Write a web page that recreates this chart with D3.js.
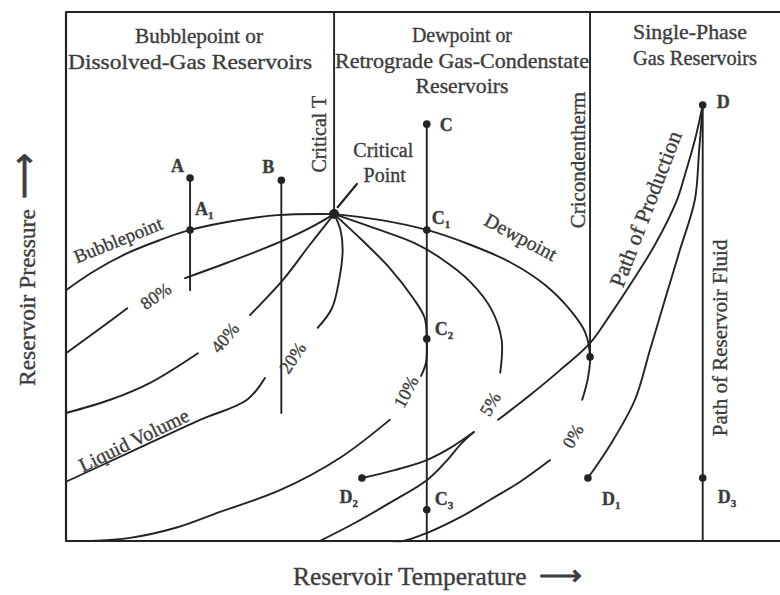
<!DOCTYPE html>
<html>
<head>
<meta charset="utf-8">
<script src="https://cdn.jsdelivr.net/npm/d3@7"></script>
<style>
  html, body { margin: 0; padding: 0; background: #ffffff; }
  svg { display: block; }
  text { font-family: "Liberation Serif", "Times New Roman", serif; fill: #3c3c3c; stroke: #3c3c3c; stroke-width: 0.35px; }
</style>
</head>
<body>
<svg id="chart" width="780" height="595"></svg>
<script>
// Phase diagram of a reservoir fluid: relative temperature (T) and pressure (P), 0–100.

// Critical point and cricondentherm
const criticalPoint = [37.6, 61.8];
const cricondenthermT = 73.5;

// Phase envelope
const bubblepointLine = [[0, 47.4], [3.8, 50.9], [8.6, 54.4], [13.2, 56.9], [17.4, 58.8], [22.6, 60.3], [29.6, 61.6], [37.6, 61.8]];
const dewpointUpper = [[37.6, 61.8], [44.0, 60.7], [50.6, 58.8], [56.7, 56.0], [62.3, 52.7], [67.2, 48.4], [70.7, 43.7], [72.8, 39.5], [73.5, 34.8], [73.2, 30.8], [72.4, 26.7]];
const dewpointLower = [[67.9, 15.3], [63.7, 11.2], [59.5, 7.8], [55.3, 4.5], [50.6, 1.5], [47.3, 0], [45.6, 0]];

// Liquid-volume quality lines (each broken where its label sits)
const quality80Upper = [[37.6, 61.8], [34.2, 59.2], [29.6, 56.3], [22.6, 52.6], [16.7, 49.7]];
const quality80Lower = [[8.6, 44.0], [4.1, 39.5], [0, 35.5]];
const quality40Upper = [[37.6, 61.8], [34.2, 56.0], [30.4, 49.3], [25.8, 42.7]];
const quality40Lower = [[18.5, 35.5], [11.8, 29.9], [6.2, 26.7], [0, 24.2]];
const quality20Upper = [[37.6, 61.8], [38.5, 58.8], [38.8, 55.0], [38.3, 49.3], [37.3, 44.0], [35.3, 40.3]];
const quality20Lower = [[27.9, 30.8], [25.4, 26.7], [18.8, 22.9], [9.0, 16.8], [0, 11.2]];
const quality10Upper = [[37.6, 61.8], [41.5, 56.9], [45.4, 51.6], [48.7, 45.9], [50.3, 42.2], [50.6, 38.2], [50.5, 33.8], [49.8, 31.2]];
const quality10Lower = [[45.4, 22.9], [38.4, 15.7], [30.0, 9.6], [21.6, 5.5], [15.4, 2.5], [9.0, 0.6], [3.4, 0]];
const quality5Upper = [[37.6, 61.8], [44.0, 58.8], [48.9, 56.3], [52.5, 53.5], [56.7, 49.0], [59.7, 43.7], [61.1, 38.0], [60.9, 31.8]];
const quality5Lower = [[57.2, 20.6], [55.5, 18.5], [53.2, 14.9], [50.6, 11.5], [45.4, 7.2], [40.5, 3.4], [35.6, 0]];

// Production paths from point D
const productionPathUpper = [[89.3, 82.4], [88.2, 75.8], [86.8, 69.2], [85.7, 64.5], [82.6, 56.0], [79.1, 48.4], [76.3, 42.7], [73.5, 37.4], [69.3, 32.3], [65.1, 27.6], [60.6, 22.9]];
const productionPathLower = [[57.2, 20.6], [53.9, 17.6], [50.6, 15.3], [46.1, 13.4], [41.5, 11.9]];
const pathToD1 = [[89.3, 82.4], [88.8, 73.9], [88.2, 64.5], [86.1, 55.0], [84.0, 45.6], [81.9, 36.1], [79.8, 26.7], [76.3, 18.1], [73.2, 11.9]];

// Isothermal depletion paths: [T, P start, P end]
const isotherms = [[17.4, 68.6, 47.4], [30.2, 68.2, 24.2], [50.6, 78.8, 0], [89.3, 82.4, 0]];

// Named state points
const pointNames = ["A", "A1", "B", "C", "C1", "C2", "C3", "D", "D1", "D2", "D3"];
const pointT = [17.4, 17.4, 30.2, 50.6, 50.6, 50.6, 50.6, 89.3, 73.2, 41.5, 89.3];
const pointP = [68.6, 58.8, 68.2, 78.8, 58.8, 38.2, 5.9, 82.4, 11.9, 11.9, 11.9];

// Reservoir-type headings
const regionTitles = [
  ["Bubblepoint or", "Dissolved-Gas Reservoirs"],
  ["Dewpoint or", "Retrograde Gas-Condenstate", "Reservoirs"],
  ["Single-Phase", "Gas Reservoirs"]
];
const xTitle = "Reservoir Temperature";
const yTitle = "Reservoir Pressure";
const arrow = "\u27F6";

const svg = d3.select("#chart");
const frame = { left: 66, right: 779, top: 12, bottom: 541 };
const x = d3.scaleLinear().domain([0, 100]).range([frame.left, frame.right]);
const y = d3.scaleLinear().domain([0, 100]).range([frame.bottom, frame.top]);

const ink = "#232323";
const line = d3.line().x(d => x(d[0])).y(d => y(d[1])).curve(d3.curveCatmullRom.alpha(0.5));
const straight = d3.line().x(d => x(d[0])).y(d => y(d[1]));

const curves = svg.append("g").attr("fill", "none").attr("stroke", ink)
  .attr("stroke-width", 1.9).attr("stroke-linecap", "round").attr("stroke-linejoin", "round");

// Frame (open on the right)
curves.append("path").attr("stroke-width", 2.2)
  .attr("d", `M${780},${y(100)}H${x(0)}V${y(0)}H780`);

// Region dividers: critical temperature and cricondentherm
curves.append("path").attr("d", straight([[criticalPoint[0], 100], criticalPoint]));
curves.append("path").attr("d", straight([[cricondenthermT, 100], [cricondenthermT, 34.8]]));

[bubblepointLine, dewpointUpper, dewpointLower,
 quality80Upper, quality80Lower, quality40Upper, quality40Lower,
 quality20Upper, quality20Lower, quality10Upper, quality10Lower,
 quality5Upper, quality5Lower,
 productionPathUpper, productionPathLower, pathToD1].forEach(c => {
  curves.append("path").attr("d", line(c));
});

isotherms.forEach(([t, p0, p1]) => {
  curves.append("path").attr("d", straight([[t, p0], [t, p1]]));
});

// Pointer to the critical point
curves.append("path").attr("stroke-width", 2.2).attr("d", straight([[40.8, 67.5], [38.1, 63.1]]));

// State point markers
const dots = svg.append("g").attr("fill", ink);
pointNames.forEach((n, i) => {
  dots.append("circle").attr("cx", x(pointT[i])).attr("cy", y(pointP[i])).attr("r", 3.8);
});
dots.append("circle").attr("cx", x(criticalPoint[0])).attr("cy", y(criticalPoint[1])).attr("r", 5);
dots.append("circle").attr("cx", x(cricondenthermT)).attr("cy", y(34.8)).attr("r", 3.8);

// Point labels (offsets in pixels from each marker)
const labelOffset = {
  A: [-6, -6, "end"], A1: [5, -15, "start"], B: [-7, -7, "end"], C: [13, 7, "start"],
  C1: [5, -6, "start"], C2: [8, -4, "start"], C3: [8, -5, "start"],
  D: [14, 3, "start"], D1: [14, 27, "start"], D2: [-4, 25, "end"], D3: [15, 25, "start"]
};
const ptLabels = svg.append("g").attr("font-size", 18).attr("font-weight", "bold");
pointNames.forEach((n, i) => {
  const [dx, dy, anchor] = labelOffset[n];
  const t = ptLabels.append("text")
    .attr("x", x(pointT[i]) + dx).attr("y", y(pointP[i]) + dy)
    .attr("text-anchor", anchor).text(n[0]);
  if (n.length > 1) {
    t.append("tspan").attr("font-size", 11).attr("dy", 4).text(n.slice(1));
  }
});

// Headings: centre x and set width for each line
const titleLayout = [
  [[199, 128], [190, 244]],
  [[462, 100], [462, 254], [462, 93]],
  [[690, 114], [695, 124]]
];
const titleY0 = [43, 42, 39];
const titles = svg.append("g").attr("font-size", 21).attr("text-anchor", "middle");
regionTitles.forEach((lines, i) => {
  lines.forEach((s, j) => {
    const [cx, w] = titleLayout[i][j];
    titles.append("text").attr("x", cx).attr("y", titleY0[i] + j * 25.5)
      .attr("textLength", w).attr("lengthAdjust", "spacingAndGlyphs").text(s);
  });
});

// Curve annotations: [text, T, P, angle, size]
const notes = [
  ["Bubblepoint", 7.3, 56.9, -22, 19],
  ["80%", 12.6, 46.3, -35, 18],
  ["40%", 22.3, 38.4, -50, 18],
  ["20%", 31.8, 34.6, -56, 18],
  ["Liquid Volume", 9.5, 19.1, -26, 20],
  ["10%", 47.7, 28.2, -62, 18],
  ["5%", 59.5, 25.9, -60, 18],
  ["0%", 71.1, 19.8, -60, 18],
  ["Dewpoint", 63.8, 57.5, 28, 20],
  ["Path of Production", 81.3, 62.8, -69, 22],
  ["Path of Reservoir Fluid", 91.7, 38.4, -90, 21],
  ["Cricondentherm", 71.8, 72.0, -90, 21],
  ["Critical T", 35.5, 76.9, -90, 20],
  ["Critical", 44.5, 73.9, 0, 20],
  ["Point", 44.7, 69.2, 0, 20]
];
const noteG = svg.append("g").attr("text-anchor", "middle");
notes.forEach(([s, t, p, a, fs]) => {
  noteG.append("text")
    .attr("transform", `translate(${x(t)},${y(p)}) rotate(${a})`)
    .attr("dominant-baseline", "central")
    .attr("font-size", fs).text(s);
});

// Axis titles with long arrows
const xt = svg.append("text").attr("x", 293).attr("y", 585).attr("font-size", 25.5).text(xTitle);
xt.append("tspan").attr("dx", 12).attr("font-size", 30).attr("stroke-width", 0.8).text(arrow);
const yt = svg.append("text").attr("transform", "translate(35,386) rotate(-90)").attr("font-size", 23.5).text(yTitle);
yt.append("tspan").attr("dx", 10).attr("font-size", 32).attr("stroke-width", 0.8).text(arrow);
</script>
</body>
</html>
